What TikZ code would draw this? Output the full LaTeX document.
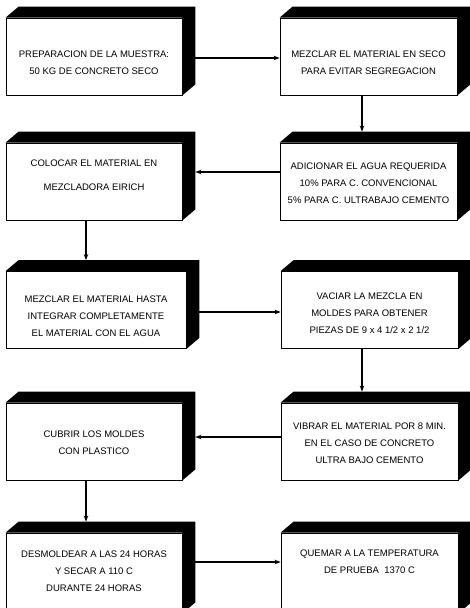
\documentclass[tikz,border=0pt]{standalone}
\usepackage{fontspec}
\setmainfont{Liberation Sans}
\usetikzlibrary{arrows.meta}
\tikzset{
  box/.style={draw, line width=0.8pt, fill=white, inner sep=0pt},
  lbox/.style={box, minimum width=176pt, minimum height=77pt},
  rbox/.style={box, minimum width=177pt, minimum height=77pt},
  side/.style={fill=black},
  txt/.style={align=center, font=\fontsize{9.5}{17}\selectfont, inner sep=0pt},
  arr/.style={line width=1.1pt, -{Stealth[length=6pt,width=4.5pt]}}
}
\begin{document}
\begin{tikzpicture}[x=1pt,y=-1pt]
\useasboundingbox (0,0) rectangle (470,608);
\clip (0,0) rectangle (470,608);
% boxes
\node[lbox] (b1) at (94,56.5) {};
\node[rbox] (b2) at (368.5,56.5) {};
\node[lbox] (b3) at (94,181.5) {};
\node[rbox] (b4) at (368.5,181.5) {};
\node[lbox, minimum width=180pt] (b5) at (96,310) {};
\node[rbox] (b6) at (369.5,310) {};
\node[lbox] (b7) at (94,441.5) {};
\node[rbox] (b8) at (369.5,441.5) {};
\node[lbox, minimum height=80pt] (b9) at (94,573) {};
\node[rbox, minimum height=80pt] (b10) at (369.5,573) {};
\foreach \n in {b1,b2,b3,b4,b5,b6,b7,b8,b9,b10}
  \fill[side] (\n.north west) -- ++(13pt,11pt)
    -- ([shift={(13pt,11pt)}]\n.north east)
    -- ([shift={(13pt,11pt)}]\n.south east)
    -- (\n.south east) -- (\n.north east) -- cycle;
% texts
\node[txt] (t1) at (94,62.5) {PREPARACION DE LA MUESTRA:\\50 KG DE CONCRETO SECO};
\node[txt] (t2) at (368.5,62.5) {MEZCLAR EL MATERIAL EN SECO\\PARA EVITAR SEGREGACION};
\node[txt] (t3) at (94,175) {COLOCAR EL MATERIAL EN\\[7pt]MEZCLADORA EIRICH};
\node[txt] (t4) at (368.5,183) {ADICIONAR EL AGUA REQUERIDA\\10\% PARA C. CONVENCIONAL\\5\% PARA C. ULTRABAJO CEMENTO};
\node[txt] (t5) at (96,316) {MEZCLAR EL MATERIAL HASTA\\INTEGRAR COMPLETAMENTE\\EL MATERIAL CON EL AGUA};
\node[txt] (t6) at (369.5,313) {VACIAR LA MEZCLA EN\\MOLDES PARA OBTENER\\PIEZAS DE 9 x 4 1/2 x 2 1/2};
\node[txt] (t7) at (94,443) {CUBRIR LOS MOLDES\\CON PLASTICO};
\node[txt] (t8) at (369.5,443) {VIBRAR EL MATERIAL POR 8 MIN.\\EN EL CASO DE CONCRETO\\ULTRA BAJO CEMENTO};
\node[txt] (t9) at (94,571) {DESMOLDEAR A LAS 24 HORAS\\Y SECAR A 110 C\\DURANTE 24 HORAS};
\node[txt] (t10) at (369.5,562) {QUEMAR A LA TEMPERATURA\\DE PRUEBA\ \ 1370 C};
% connectors
\draw[arr] ([xshift=13pt,yshift=-1.5pt]b1.east) -- ([yshift=-1.5pt]b2.west);
\draw[arr] ([xshift=-6.5pt]b2.south) -- ([xshift=-6.5pt,yshift=11pt]b4.north);
\draw[arr] ([yshift=9.5pt]b4.west) -- ([xshift=13pt,yshift=9.5pt]b3.east);
\draw[arr] ([xshift=-8pt]b3.south) -- ([xshift=-10pt,yshift=11pt]b5.north);
\draw[arr] ([xshift=13pt,yshift=-2pt]b5.east) -- ([yshift=-2pt]b6.west);
\draw[arr] ([xshift=-7.5pt]b6.south) -- ([xshift=-7.5pt,yshift=11pt]b8.north);
\draw[arr] ([yshift=4.5pt]b8.west) -- ([xshift=13pt,yshift=4.5pt]b7.east);
\draw[arr] ([xshift=-8pt]b7.south) -- ([xshift=-8pt,yshift=11pt]b9.north);
\draw[arr] ([xshift=13pt,yshift=11pt]b9.east) -- ([yshift=11pt]b10.west);
\end{tikzpicture}
\end{document}
